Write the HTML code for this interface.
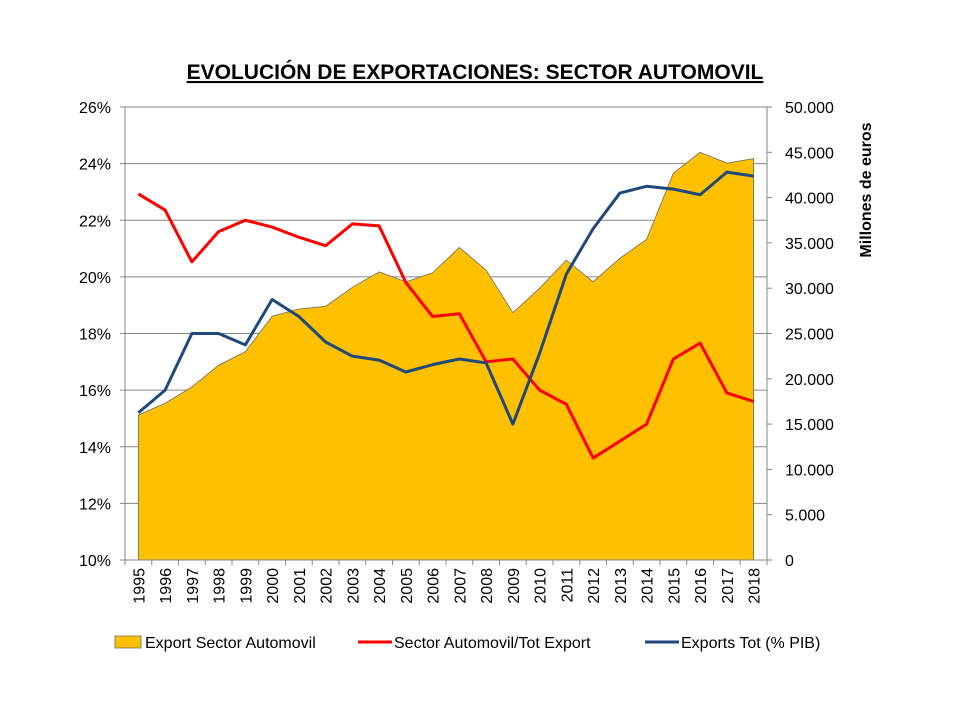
<!DOCTYPE html>
<html><head><meta charset="utf-8"><style>
body{margin:0;background:#fff;}
svg text{font-family:"Liberation Sans",sans-serif;}
</style></head><body>
<svg id="c" width="960" height="720">
<text x="475" y="79" text-anchor="middle" font-size="21" font-weight="bold" text-decoration="underline">EVOLUCIÓN DE EXPORTACIONES: SECTOR AUTOMOVIL</text>
<g id="plot"></g>
</svg>
<script>
const years=[1995,1996,1997,1998,1999,2000,2001,2002,2003,2004,2005,2006,2007,2008,2009,2010,2011,2012,2013,2014,2015,2016,2017,2018];
const exportAuto=[16.0,17.3,19.1,21.5,23.0,26.9,27.7,28.0,30.1,31.8,30.7,31.7,34.5,32.0,27.3,30.0,33.1,30.7,33.3,35.4,42.7,45.0,43.8,44.3];
const sharePct=[22.93,22.36,20.53,21.6,22.0,21.76,21.4,21.1,21.87,21.8,19.8,18.6,18.7,17.0,17.1,16.0,15.5,13.6,14.2,14.8,17.1,17.66,15.9,15.6];
const exportsPib=[15.2,16.0,18.0,18.0,17.6,19.2,18.6,17.7,17.2,17.06,16.64,16.9,17.1,16.96,14.8,17.3,20.1,21.7,22.96,23.2,23.1,22.9,23.7,23.56];
const leftTicks=[10,12,14,16,18,20,22,24,26];
const rightTicks=[0,5,10,15,20,25,30,35,40,45,50];
const NS="http://www.w3.org/2000/svg";
const g=document.getElementById('plot');
const L=125,R=767,T=107,B=560;
const step=(R-L)/years.length;
const xs=i=>L+step*(i+0.5);
const yl=v=>B-(v-10)/16*(B-T);
const yr=v=>B-v/50*(B-T);
function el(t,a){const e=document.createElementNS(NS,t);for(const k in a)e.setAttribute(k,a[k]);g.appendChild(e);return e;}
// gridlines
leftTicks.forEach(v=>{if(v===10)return;const y=yl(v);const gl=el('line',{x1:L,x2:R,y1:y,y2:y,stroke:'#868686','stroke-width':1});

});
// area
let d=`M${xs(0)},${B}`;exportAuto.forEach((v,i)=>d+=` L${xs(i)},${yr(v)}`);d+=` L${xs(years.length-1)},${B} Z`;
let a=el('path',{d,fill:'#FFC000',stroke:'#6b6b6b','stroke-width':0.8});


// axes
let ax=el('path',{d:`M${L},${T}V${B}H${R}V${T}`,fill:'none',stroke:'#868686','stroke-width':1});


leftTicks.forEach(v=>{const y=yl(v);el('line',{x1:L-5,x2:L,y1:y,y2:y,stroke:'#868686'});
const t=el('text',{x:L-14,y:y+6,'text-anchor':'end','font-size':16,fill:'#000'});t.textContent=v+'%';

});
rightTicks.forEach(v=>{const y=yr(v);el('line',{x1:R,x2:R+5,y1:y,y2:y,stroke:'#868686'});
const t=el('text',{x:R+18,y:y+6,'font-size':16,fill:'#000'});t.textContent=v===0?'0':v+'.000';

});
years.forEach((yv,i)=>{const x=L+step*i;el('line',{x1:x,x2:x,y1:B,y2:B+5,stroke:'#868686'});
const t=el('text',{x:0,y:0,'font-size':16,'text-anchor':'end',transform:`translate(${xs(i)+6},${B+8}) rotate(-90)`});t.textContent=yv;

});
el('line',{x1:R,x2:R,y1:B,y2:B+5,stroke:'#868686'});
function line(arr,color,name){let p='';arr.forEach((v,i)=>p+=(i?' L':'M')+xs(i)+','+yl(v));
const e=el('path',{d:p,fill:'none',stroke:color,'stroke-width':3,'stroke-linejoin':'round'});

}
line(sharePct,'#FF0000','line-sector-automovil-tot-export');
line(exportsPib,'#1F497D','line-exports-tot-pib');
let yt=el('text',{x:0,y:0,'font-size':16,'font-weight':'bold','text-anchor':'middle',transform:'translate(871,190) rotate(-90)'});yt.textContent='Millones de euros';


// legend
el('rect',{x:115,y:636,width:26,height:12,fill:'#FFC000',stroke:'#6b6b6b','stroke-width':0.8});
let t1=el('text',{x:145,y:648,'font-size':16});t1.textContent='Export Sector Automovil';

el('line',{x1:358,x2:392,y1:642,y2:642,stroke:'#FF0000','stroke-width':3});
let t2=el('text',{x:394,y:648,'font-size':16});t2.textContent='Sector Automovil/Tot Export';

el('line',{x1:645,x2:679,y1:642,y2:642,stroke:'#1F497D','stroke-width':3});
let t3=el('text',{x:681,y:648,'font-size':16});t3.textContent='Exports Tot (% PIB)';

</script>
</body></html>
